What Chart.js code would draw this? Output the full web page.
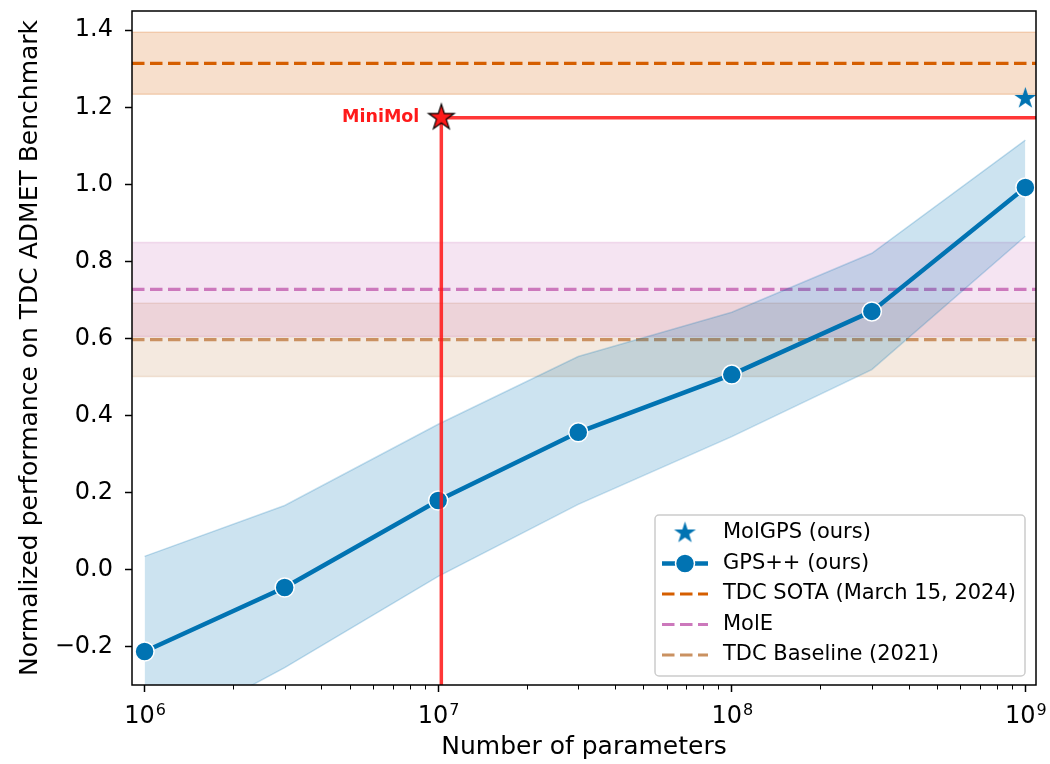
<!DOCTYPE html>
<html>
<head>
<meta charset="utf-8">
<script src="https://cdn.jsdelivr.net/npm/chart.js@4.4.1/dist/chart.umd.min.js"></script>
<style>
  html, body { margin: 0; padding: 0; background: #fff; }
</style>
</head>
<body>
<canvas id="chart" width="1050" height="764"></canvas>
<script>
// GPS++ scaling curve (mean and shaded range)
const paramCounts = [1e6, 3e6, 1e7, 3e7, 1e8, 3e8, 1e9];
const gpsScores   = [-0.213, -0.047, 0.179, 0.356, 0.506, 0.670, 0.992];
const gpsUpper    = [0.034, 0.166, 0.377, 0.553, 0.668, 0.821, 1.115];
const gpsLower    = [-0.45, -0.255, -0.018, 0.169, 0.345, 0.519, 0.865];

// single models
const molgpsParams = 1e9, molgpsScore = 1.223;
const minimolParams = 1.025e7, minimolScore = 1.173;

// reference lines: [mean, low, high]
const sotaBand     = [1.314, 1.234, 1.395];
const moleBand     = [0.727, 0.605, 0.849];
const baselineBand = [0.597, 0.501, 0.691];

const xLimits = [9.06e5, 1.087e9];
const yLimits = [-0.3, 1.45];
const xTicks = [1e6, 1e7, 1e8, 1e9];
const yTicks = [-0.2, 0, 0.2, 0.4, 0.6, 0.8, 1.0, 1.2, 1.4];
const legendLabels = ['MolGPS (ours)', 'GPS++ (ours)', 'TDC SOTA (March 15, 2024)', 'MolE', 'TDC Baseline (2021)'];

const BLUE = '#0173b2', SOTA = '#d55e00', MOLE = '#cc78bc', BASE = '#ca9161';
const RED = 'rgba(255,20,20,0.85)';
const FONT = "'DejaVu Sans', sans-serif";
const DASH = [12.5, 5.5];

function rgba(hex, a) {
    const n = parseInt(hex.slice(1), 16);
    return `rgba(${n >> 16},${(n >> 8) & 255},${n & 255},${a})`;
}

// filled 5-point star used as a point style
function starCanvas(r, fill, edge, lw) {
    const s = Math.ceil(2 * (r + lw + 2));
    const c = document.createElement('canvas');
    c.width = c.height = s;
    const g = c.getContext('2d');
    g.beginPath();
    for (let i = 0; i < 10; i++) {
        const rad = i % 2 === 0 ? r : r * 0.382;
        const a = -Math.PI / 2 + i * Math.PI / 5;
        const px = s / 2 + rad * Math.cos(a), py = s / 2 + rad * Math.sin(a);
        if (i === 0) g.moveTo(px, py); else g.lineTo(px, py);
    }
    g.closePath();
    g.fillStyle = fill;
    g.fill();
    if (edge) { g.lineWidth = lw; g.strokeStyle = edge; g.stroke(); }
    return c;
}
const blueStar = starCanvas(11.5, BLUE, null, 0);
const redStar = starCanvas(13.5, '#ff1a1a', '#000', 1.2);

const toXY = (xs, ys) => xs.map((x, i) => ({ x: x, y: ys[i] }));
const flat = v => [{ x: xLimits[0], y: v }, { x: xLimits[1], y: v }];

function bandSets(band, color) {
    return [
        { data: flat(band[2]), fill: '+1', backgroundColor: rgba(color, 0.2), borderColor: rgba(color, 0.22), borderWidth: 1.5, pointRadius: 0, order: 20 },
        { data: flat(band[1]), fill: false, borderColor: rgba(color, 0.22), borderWidth: 1.5, pointRadius: 0, order: 20 },
        { data: flat(band[0]), fill: false, borderColor: color, borderWidth: 3.2, borderDash: DASH, pointRadius: 0, order: 10 }
    ];
}

const datasets = [
    { data: [{ x: minimolParams, y: minimolScore }], showLine: false, pointStyle: redStar, pointRadius: 14, order: 0 },
    { data: [{ x: molgpsParams, y: molgpsScore }], showLine: false, pointStyle: blueStar, pointRadius: 12, order: 1 },
    { data: [{ x: minimolParams, y: yLimits[0] }, { x: minimolParams, y: minimolScore }, { x: xLimits[1], y: minimolScore }],
      borderColor: RED, borderWidth: 3.5, pointRadius: 0, fill: false, order: 2 },
    { data: toXY(paramCounts, gpsScores), borderColor: BLUE, borderWidth: 4.5, pointRadius: 9.5,
      pointBackgroundColor: BLUE, pointBorderColor: '#fff', pointBorderWidth: 1.5, fill: false, order: 3 },
    { data: toXY(paramCounts, gpsUpper), fill: '+1', backgroundColor: rgba(BLUE, 0.2), borderColor: rgba(BLUE, 0.22), borderWidth: 1.5, pointRadius: 0, order: 5 },
    { data: toXY(paramCounts, gpsLower), fill: false, borderColor: rgba(BLUE, 0.22), borderWidth: 1.5, pointRadius: 0, order: 5 },
    ...bandSets(sotaBand, SOTA),
    ...bandSets(moleBand, MOLE),
    ...bandSets(baselineBand, BASE)
];

// spines, minor x ticks, x tick labels, MiniMol tag and legend
const decorations = {
    id: 'decorations',
    afterDraw(chart) {
        const { ctx, chartArea: a, scales: { x } } = chart;
        ctx.save();

        // minor ticks
        ctx.strokeStyle = '#000';
        ctx.lineWidth = 1;
        for (let e = 5; e <= 9; e++) {
            for (let d = 2; d <= 9; d++) {
                const v = d * Math.pow(10, e);
                if (v < xLimits[0] || v > xLimits[1]) continue;
                const px = Math.round(x.getPixelForValue(v)) + 0.5;
                ctx.beginPath(); ctx.moveTo(px, a.bottom); ctx.lineTo(px, a.bottom + 4.5); ctx.stroke();
            }
        }

        // x tick labels as 10^n
        ctx.fillStyle = '#000';
        ctx.textBaseline = 'alphabetic';
        xTicks.forEach(v => {
            const base = '10', exp = String(Math.round(Math.log10(v)));
            ctx.font = `24px ${FONT}`;
            const wb = ctx.measureText(base).width;
            ctx.font = `16px ${FONT}`;
            const we = ctx.measureText(exp).width;
            const left = x.getPixelForValue(v) - (wb + we) / 2;
            ctx.textAlign = 'left';
            ctx.font = `24px ${FONT}`;
            ctx.fillText(base, left, a.bottom + 38);
            ctx.font = `16px ${FONT}`;
            ctx.fillText(exp, left + wb + 1, a.bottom + 30);
        });

        // spines
        ctx.strokeStyle = '#000';
        ctx.lineWidth = 1.5;
        ctx.strokeRect(a.left, a.top, a.right - a.left, a.bottom - a.top);

        // MiniMol tag
        ctx.fillStyle = '#ff1a1a';
        ctx.font = `bold 17.5px ${FONT}`;
        ctx.textAlign = 'right';
        ctx.textBaseline = 'middle';
        ctx.fillText('MiniMol', x.getPixelForValue(minimolParams) - 22, chart.scales.y.getPixelForValue(minimolScore));

        // legend
        const bw = 370, bh = 161;
        const bx = a.right - 11 - bw, by = a.bottom - 9 - bh;
        ctx.beginPath();
        ctx.roundRect(bx, by, bw, bh, 4);
        ctx.fillStyle = 'rgba(255,255,255,0.8)';
        ctx.fill();
        ctx.strokeStyle = '#cccccc';
        ctx.lineWidth = 1.5;
        ctx.stroke();
        const hx0 = bx + 7, hx1 = bx + 53, hc = bx + 30;
        const lineColors = [SOTA, MOLE, BASE];
        legendLabels.forEach((label, i) => {
            const cy = by + 18 + i * 30.5;
            if (i === 0) {
                ctx.drawImage(blueStar, hc - blueStar.width / 2, cy - blueStar.height / 2);
            } else if (i === 1) {
                ctx.setLineDash([]);
                ctx.strokeStyle = BLUE; ctx.lineWidth = 4.5;
                ctx.beginPath(); ctx.moveTo(hx0, cy); ctx.lineTo(hx1, cy); ctx.stroke();
                ctx.beginPath(); ctx.arc(hc, cy, 9.5, 0, Math.PI * 2);
                ctx.fillStyle = BLUE; ctx.fill();
                ctx.strokeStyle = '#fff'; ctx.lineWidth = 1.5; ctx.stroke();
            } else {
                ctx.setLineDash(DASH);
                ctx.strokeStyle = lineColors[i - 2]; ctx.lineWidth = 3.2;
                ctx.beginPath(); ctx.moveTo(hx0, cy); ctx.lineTo(hx1, cy); ctx.stroke();
                ctx.setLineDash([]);
            }
            ctx.fillStyle = '#000';
            ctx.font = `21px ${FONT}`;
            ctx.textAlign = 'left';
            ctx.textBaseline = 'middle';
            ctx.fillText(label, bx + 68, cy);
        });
        ctx.restore();
    }
};

new Chart(document.getElementById('chart'), {
    type: 'line',
    data: { datasets: datasets },
    options: {
        responsive: false,
        animation: false,
        devicePixelRatio: 1,
        layout: { autoPadding: false, padding: { left: 0, top: 11, right: 14, bottom: 0 } },
        plugins: { legend: { display: false }, tooltip: { enabled: false } },
        scales: {
            x: {
                type: 'logarithmic',
                min: xLimits[0], max: xLimits[1],
                afterBuildTicks: s => { s.ticks = xTicks.map(v => ({ value: v })); },
                afterFit: s => { s.height = 79; s.paddingLeft = 0; s.paddingRight = 0; },
                ticks: { display: false },
                grid: { display: true, drawOnChartArea: false, drawTicks: true, tickLength: 7, tickWidth: 1.5, tickColor: '#000' },
                border: { display: false },
                title: { display: true, text: 'Number of parameters', color: '#000',
                         font: { family: FONT, size: 25, lineHeight: 1.2 }, padding: { top: 0, bottom: 2 } }
            },
            y: {
                min: yLimits[0], max: yLimits[1],
                afterBuildTicks: s => { s.ticks = yTicks.map(v => ({ value: v })); },
                afterFit: s => { s.width = 132; s.paddingTop = 0; s.paddingBottom = 0; },
                ticks: { color: '#000', padding: 12, font: { family: FONT, size: 24, lineHeight: 0.4 },
                         callback: v => v.toFixed(1).replace('-', '\u2212') },
                grid: { display: true, drawOnChartArea: false, drawTicks: true, tickLength: 7, tickWidth: 1.5, tickColor: '#000' },
                border: { display: false },
                title: { display: true, text: 'Normalized performance on TDC ADMET Benchmark', color: '#000',
                         font: { family: FONT, size: 25, lineHeight: 1.2 }, padding: { top: 15, bottom: 0 } }
            }
        }
    },
    plugins: [decorations]
});
</script>
</body>
</html>
